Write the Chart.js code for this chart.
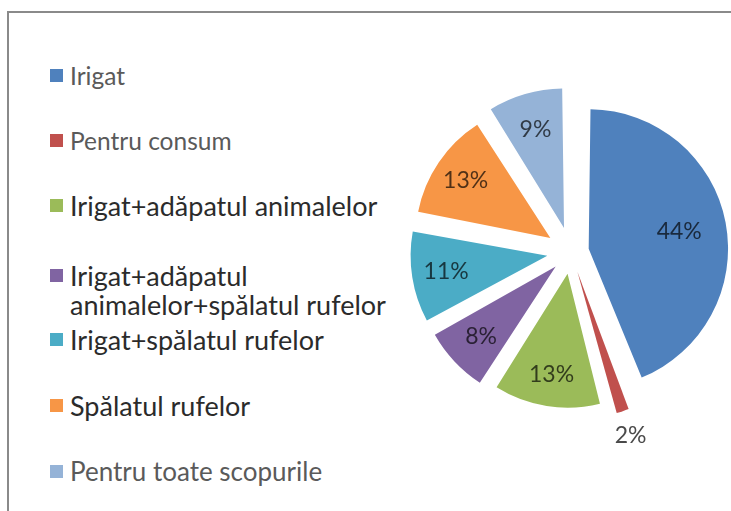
<!DOCTYPE html>
<html>
<head>
<meta charset="utf-8">
<script src="https://cdn.jsdelivr.net/npm/chart.js@4.4.1/dist/chart.umd.min.js"></script>
<style>
  html, body { margin: 0; padding: 0; background: #fff; }
  body { width: 731px; height: 511px; position: relative; overflow: hidden; font-family: Lato, "Open Sans", sans-serif; }
  #frame {
    position: absolute; left: 7px; top: 11px; width: 760px; height: 540px;
    border-top: 2px solid #8a8a8a; border-left: 2px solid #8a8a8a;
  }
  #pieWrap { position: absolute; left: 0; top: 0; width: 731px; height: 511px; }
  .item { position: absolute; left: 50px; display: flex; align-items: flex-start; }
  .item .box { width: 13px; height: 13px; flex: none; margin-right: 7px; }
  .item .txt { width: 330px; }
</style>
</head>
<body>
<div id="frame"></div>
<div id="legend"></div>
<div id="pieWrap"><canvas id="pie" width="731" height="511"></canvas></div>

<script>
// categories and shares (%)
var categories = [
    "Irigat",
    "Pentru consum",
    "Irigat+adăpatul animalelor",
    "Irigat+adăpatul animalelor+spălatul rufelor",
    "Irigat+spălatul rufelor",
    "Spălatul rufelor",
    "Pentru toate scopurile"
];
var shares = [44, 2, 13, 8, 11, 13, 9];
var sliceColors = ["#4f81bd", "#c0504d", "#9bbb59", "#8064a2", "#4bacc6", "#f79646", "#95b3d7"];

// legend layout: marker centre y, font size, text colour
var legendY = [75, 140, 205, 275, 339, 405, 471];
var legendSize = [24.5, 24.5, 27, 27, 27, 27, 26];
var legendInk = ["#5a5a5a", "#5a5a5a", "#2b2b2b", "#2b2b2b", "#2b2b2b", "#2b2b2b", "#5a5a5a"];

var legend = document.getElementById('legend');
for (var i = 0; i < categories.length; i++) {
    var lh = 29;
    var item = document.createElement('div');
    item.className = 'item';
    item.style.top = (legendY[i] - lh / 2) + 'px';
    item.innerHTML = "<div class='box' style='background:" + sliceColors[i] + ";margin-top:" + ((lh - 13) / 2) + "px'></div>" +
        "<div class='txt' style='font-size:" + legendSize[i] + "px;line-height:" + lh + "px;color:" + legendInk[i] + "'>" + categories[i] + "</div>";
    legend.appendChild(item);
}

// explosion per slice (chart.js moves a slice out by offset/4)
var explode = [72, 84, 88, 84, 96, 100, 100];

var pctLabels = {
    id: 'pctLabels',
    afterDatasetsDraw: function(chart) {
        var ctx = chart.ctx;
        var meta = chart.getDatasetMeta(0);
        ctx.save();
        ctx.font = "23px Lato";
        ctx.textAlign = "center";
        ctx.textBaseline = "middle";
        meta.data.forEach(function(arc, i) {
            var p = arc.getProps(['x', 'y', 'startAngle', 'endAngle', 'outerRadius']);
            var mid = (p.startAngle + p.endAngle) / 2;
            var span = p.endAngle - p.startAngle;
            var d;
            if (shares[i] < 5) {
                d = explode[i] / 4 + p.outerRadius + 44;
                ctx.fillStyle = "#4a4a4a";
            } else {
                d = explode[i] / 4 + p.outerRadius * (span > Math.PI / 2 ? 0.72 : 0.8);
                ctx.fillStyle = "rgba(0,0,0,0.68)";
            }
            ctx.fillText(shares[i] + "%", p.x + Math.cos(mid) * d, p.y + Math.sin(mid) * d);
        });
        ctx.restore();
    }
};

var chart = new Chart(document.getElementById('pie'), {
    type: 'pie',
    data: {
        labels: categories,
        datasets: [{
            data: shares,
            backgroundColor: sliceColors,
            borderWidth: 0,
            offset: explode,
            radius: 128
        }]
    },
    options: {
        responsive: false,
        animation: false,
        layout: { padding: { left: 411, right: 0, top: 0, bottom: 7 } },
        plugins: {
            legend: { display: false },
            tooltip: { enabled: false }
        }
    },
    plugins: [pctLabels]
});
</script>
</body>
</html>
